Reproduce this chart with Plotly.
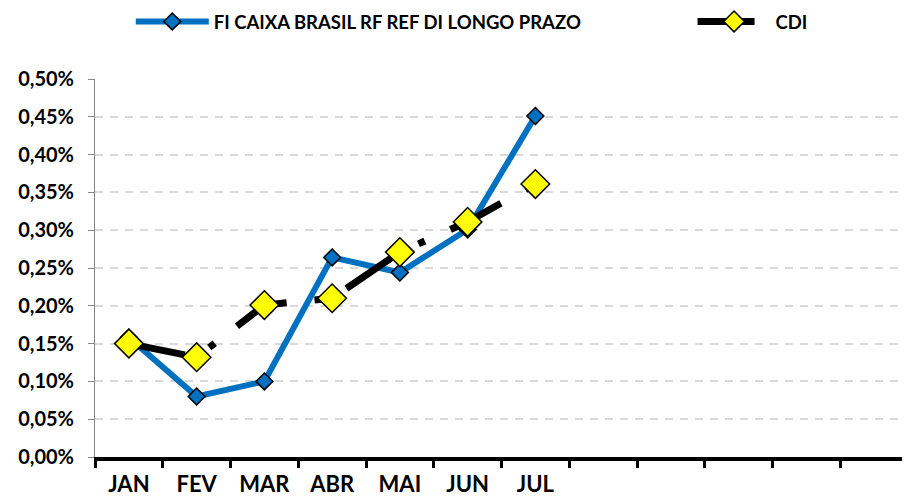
import plotly.graph_objects as go

months = ["JAN", "FEV", "MAR", "ABR", "MAI", "JUN", "JUL", "AGO", "SET", "OUT", "NOV", "DEZ"]
month_labels = ["JAN", "FEV", "MAR", "ABR", "MAI", "JUN", "JUL", "", "", "", "", ""]
fi_values = [0.158, 0.080, 0.100, 0.264, 0.244, 0.301, 0.451]
cdi_values = [0.150, 0.132, 0.201, 0.210, 0.271, 0.311, 0.361]
y_ticks = [0.00, 0.05, 0.10, 0.15, 0.20, 0.25, 0.30, 0.35, 0.40, 0.45, 0.50]
y_labels = [f"{v:.2f}".replace(".", ",") + "%" for v in y_ticks]

FONT = "Lato"

fig = go.Figure()
fig.add_trace(go.Scatter(
    x=months[:len(fi_values)], y=fi_values, name="FI CAIXA BRASIL RF REF DI LONGO PRAZO",
    mode="lines+markers",
    line=dict(color="#0070C0", width=6),
    marker=dict(symbol="diamond", size=13, color="#0070C0", line=dict(color="black", width=1.5)),
    legend="legend",
))
fig.add_trace(go.Scatter(
    x=months[:len(cdi_values)], y=cdi_values, name="CDI",
    mode="lines+markers",
    line=dict(color="black", width=7, dash="57px,28px,7px,28px"),
    marker=dict(symbol="diamond", size=22, color="#FFFF00", line=dict(color="black", width=1.5)),
    legend="legend2",
))

fig.update_layout(
    width=910, height=500,
    margin=dict(l=87, r=10, t=71, b=51, autoexpand=False),
    paper_bgcolor="white", plot_bgcolor="white",
    font=dict(family=FONT, color="black"),
    showlegend=True,
    legend=dict(x=0.044, y=1.151, xanchor="left", yanchor="middle", orientation="h",
                font=dict(family=FONT, size=18.5, color="black", weight="bold"),
                itemwidth=73, bgcolor="rgba(0,0,0,0)"),
    legend2=dict(x=0.735, y=1.151, xanchor="left", yanchor="middle", orientation="h",
                 font=dict(family=FONT, size=18.5, color="black", weight="bold"),
                 itemwidth=73, bgcolor="rgba(0,0,0,0)"),
    xaxis=dict(
        type="category", categoryorder="array", categoryarray=months,
        range=[-0.5, 11.5],
        tickvals=months, ticktext=month_labels,
        tickson="boundaries", ticks="outside", ticklen=7, tickwidth=3, tickcolor="black",
        showline=True, linecolor="black", linewidth=4,
        showgrid=False, zeroline=False, ticklabelstandoff=5,
        tickfont=dict(family=FONT, size=22, color="black", weight="bold"),
    ),
    yaxis=dict(
        range=[0, 0.5], tickvals=y_ticks, ticktext=y_labels,
        ticks="outside", ticklen=6, tickwidth=1, tickcolor="#868686",
        showline=True, linecolor="#868686", linewidth=1,
        showgrid=True, gridcolor="#D9D9D9", gridwidth=2, griddash="8px,7px",
        zeroline=False, ticklabelstandoff=10,
        tickfont=dict(family=FONT, size=20, color="black", weight="bold"),
    ),
)

fig.write_html("out.html")
